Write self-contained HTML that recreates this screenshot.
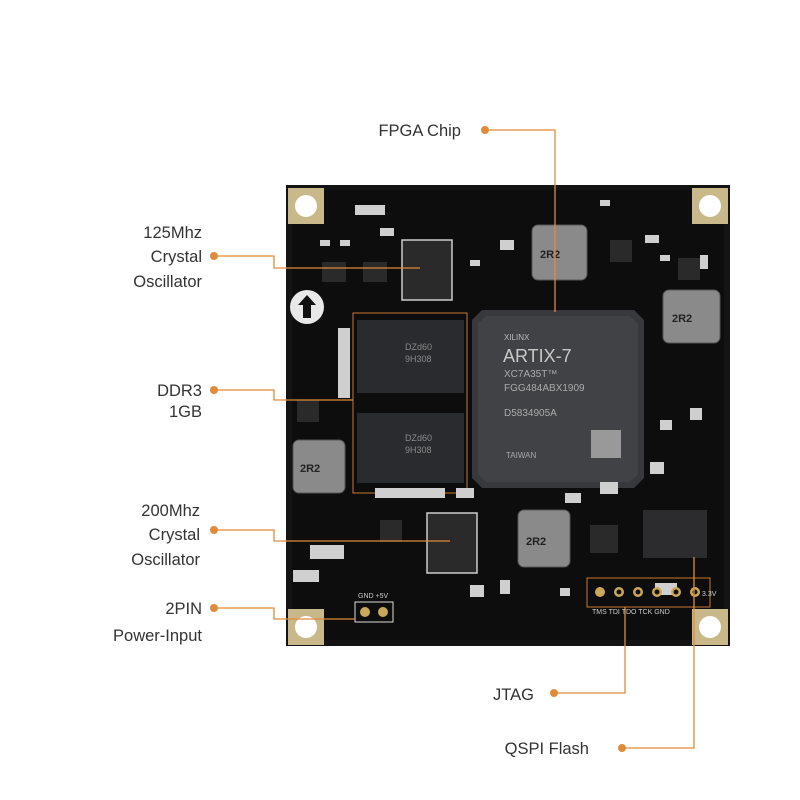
<!DOCTYPE html>
<html><head><meta charset="utf-8"><style>
html,body{margin:0;padding:0;background:#fff;}
svg{display:block}
</style></head><body>
<svg width="800" height="800" viewBox="0 0 800 800" xmlns="http://www.w3.org/2000/svg" font-family="Liberation Sans, sans-serif">
<rect width="800" height="800" fill="#fff"/>
<rect x="286" y="185" width="444" height="461" fill="#141414"/>
<rect x="292" y="190" width="432" height="450" fill="#0d0d0d"/>
<g fill="#c9b98a">
<rect x="288" y="188" width="36" height="36"/><rect x="692" y="188" width="36" height="36"/>
<rect x="288" y="609" width="36" height="36"/><rect x="692" y="609" width="36" height="36"/>
</g>
<g fill="#fff"><circle cx="306" cy="206" r="11"/><circle cx="710" cy="206" r="11"/><circle cx="306" cy="627" r="11"/><circle cx="710" cy="627" r="11"/></g>
<circle cx="307" cy="307" r="17" fill="#e8e8e8"/>
<path d="M307 295 L298 305 L303 305 L303 318 L311 318 L311 305 L316 305 Z" fill="#111"/>
<path d="M482 310 L634 310 L644 320 L644 478 L634 488 L482 488 L472 478 L472 320 Z" fill="#38393d"/>
<path d="M486 316 L630 316 L638 324 L638 474 L630 482 L486 482 L478 474 L478 324 Z" fill="#414246"/>
<g fill="#bbb" font-size="8"><text x="504" y="340">XILINX</text></g>
<text x="503" y="362" fill="#c8c8c8" font-size="18">ARTIX-7</text>
<g fill="#aaa" font-size="10"><text x="504" y="377">XC7A35T™</text><text x="504" y="391">FGG484ABX1909</text><text x="504" y="416">D5834905A</text><text x="506" y="458" font-size="8">TAIWAN</text></g>
<rect x="591" y="430" width="30" height="28" fill="#999"/>
<rect x="357" y="320" width="107" height="73" fill="#2a2b2f"/>
<rect x="357" y="413" width="107" height="70" fill="#2a2b2f"/>
<g fill="#8a8a8a" font-size="9"><text x="405" y="350">DZd60</text><text x="405" y="362">9H308</text><text x="405" y="441">DZd60</text><text x="405" y="453">9H308</text></g>
<rect x="353" y="313" width="114" height="180" fill="none" stroke="#c8772e" stroke-width="1"/>
<g fill="#8a8a8a" stroke="#555">
<rect x="532" y="225" width="55" height="55" rx="6"/>
<rect x="663" y="290" width="57" height="53" rx="6"/>
<rect x="293" y="440" width="52" height="53" rx="6"/>
<rect x="518" y="510" width="52" height="57" rx="6"/>
</g>
<g fill="#222" font-size="11" font-weight="bold">
<text x="540" y="258">2R2</text><text x="672" y="322">2R2</text><text x="300" y="472">2R2</text><text x="526" y="545">2R2</text>
</g>
<rect x="402" y="240" width="50" height="60" fill="#2a2a2a" stroke="#ccc" stroke-width="1.5"/>
<rect x="427" y="513" width="50" height="60" fill="#2a2a2a" stroke="#ccc" stroke-width="1.5"/>
<rect x="643" y="510" width="64" height="48" fill="#2c2c2e"/>
<g fill="#2a2a2a"><rect x="322" y="262" width="24" height="20"/><rect x="363" y="262" width="24" height="20"/><rect x="610" y="240" width="22" height="22"/><rect x="678" y="258" width="22" height="22"/><rect x="590" y="525" width="28" height="28"/><rect x="380" y="520" width="22" height="22"/><rect x="297" y="400" width="22" height="22"/></g>
<g fill="#cfcfcf">
<rect x="355" y="205" width="30" height="10"/><rect x="310" y="545" width="34" height="14"/><rect x="500" y="240" width="14" height="10"/>
<rect x="600" y="482" width="18" height="12"/><rect x="293" y="570" width="26" height="12"/><rect x="655" y="583" width="22" height="12"/>
<rect x="456" y="488" width="18" height="10"/><rect x="565" y="493" width="16" height="10"/>
<rect x="650" y="462" width="14" height="12"/><rect x="690" y="408" width="12" height="12"/>
<rect x="338" y="328" width="12" height="70"/><rect x="375" y="488" width="70" height="10"/>
<rect x="320" y="240" width="10" height="6"/><rect x="340" y="240" width="10" height="6"/><rect x="380" y="228" width="14" height="8"/>
<rect x="645" y="235" width="14" height="8"/><rect x="660" y="255" width="10" height="6"/><rect x="700" y="255" width="8" height="14"/>
<rect x="600" y="200" width="10" height="6"/><rect x="470" y="585" width="14" height="12"/><rect x="500" y="580" width="10" height="14"/>
<rect x="560" y="588" width="10" height="8"/><rect x="470" y="260" width="10" height="6"/><rect x="660" y="420" width="12" height="10"/>
</g>
<rect x="587" y="578" width="123" height="29" fill="none" stroke="#c8772e" stroke-width="1"/>
<g fill="#c9a85a"><circle cx="600" cy="592" r="5"/><circle cx="619" cy="592" r="5"/><circle cx="638" cy="592" r="5"/><circle cx="657" cy="592" r="5"/><circle cx="676" cy="592" r="5"/><circle cx="695" cy="592" r="5"/></g>
<g fill="#111"><circle cx="619" cy="592" r="2.5"/><circle cx="638" cy="592" r="2.5"/><circle cx="657" cy="592" r="2.5"/><circle cx="676" cy="592" r="2.5"/><circle cx="695" cy="592" r="2.5"/></g>
<rect x="355" y="602" width="38" height="20" fill="none" stroke="#ddd"/>
<g fill="#c9a85a"><circle cx="365" cy="612" r="5"/><circle cx="383" cy="612" r="5"/></g>
<g fill="#ccc" font-size="7"><text x="358" y="598">GND +5V</text><text x="702" y="596">3.3V</text><text x="592" y="614">TMS TDI TDO TCK GND</text></g>
<g fill="none" stroke="#e08a3a" stroke-width="1.3">
<polyline points="485,130 555,130 555,312"/>
<polyline points="214,256 274,256 274,268 420,268"/>
<polyline points="214,390 274,390 274,400 353,400"/>
<polyline points="214,530 274,530 274,541 450,541"/>
<polyline points="214,608 274,608 274,619 355,619"/>
<polyline points="554,693 625,693 625,607"/>
<polyline points="622,748 694,748 694,557"/>
</g>
<g fill="#e08a3a">
<circle cx="485" cy="130" r="4"/><circle cx="214" cy="256" r="4"/><circle cx="214" cy="390" r="4"/><circle cx="214" cy="530" r="4"/><circle cx="214" cy="608" r="4"/><circle cx="554" cy="693" r="4"/><circle cx="622" cy="748" r="4"/>
</g>
<g fill="#333" font-size="16.5" text-anchor="end">
<text x="461" y="136">FPGA Chip</text>
<text x="202" y="238">125Mhz</text><text x="202" y="262">Crystal</text><text x="202" y="287">Oscillator</text>
<text x="202" y="396">DDR3</text><text x="202" y="417">1GB</text>
<text x="200" y="516">200Mhz</text><text x="200" y="540">Crystal</text><text x="200" y="565">Oscillator</text>
<text x="202" y="614">2PIN</text><text x="202" y="641">Power-Input</text>
<text x="534" y="700">JTAG</text>
<text x="589" y="754">QSPI Flash</text>
</g>
</svg>
</body></html>
